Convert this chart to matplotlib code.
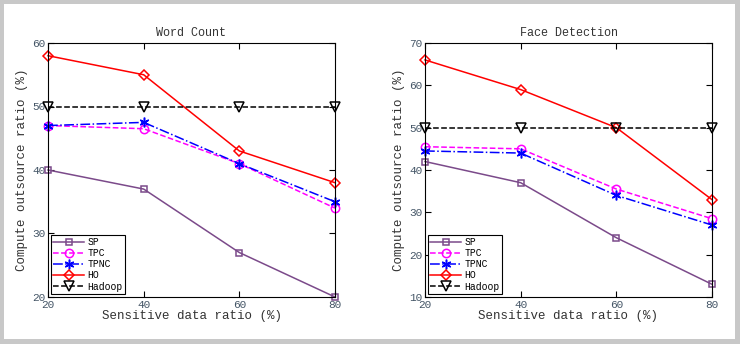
import matplotlib
matplotlib.use('Agg')
import matplotlib.pyplot as plt
from matplotlib.patches import Rectangle

plt.rcParams['font.family'] = ['Liberation Mono', 'DejaVu Sans Mono']

x = [20, 40, 60, 80]
names = ['SP', 'TPC', 'TPNC', 'HO', 'Hadoop']

wc_sp = [40, 37, 27, 20]
wc_tpc = [47, 46.5, 41, 34]
wc_tpnc = [47, 47.5, 41, 35]
wc_ho = [58, 55, 43, 38]
wc_hadoop = [50, 50, 50, 50]

fd_sp = [42, 37, 24, 13]
fd_tpc = [45.5, 45, 35.5, 28.5]
fd_tpnc = [44.5, 44, 34, 27]
fd_ho = [66, 59, 50, 33]
fd_hadoop = [50, 50, 50, 50]

styles = [
    dict(color='#7b4a8a', ls='-', marker='s', ms=5),
    dict(color='#ff00ff', ls='--', marker='o', ms=6),
    dict(color='#0000ff', ls='-.', marker=(6, 2, 0), ms=7),
    dict(color='#ff0000', ls='-', marker='D', ms=5.5),
    dict(color='black', ls='--', marker='v', ms=7),
]

fig = plt.figure(figsize=(7.4, 3.44), dpi=100)
fig.patch.set_facecolor('#c8c8c8')
fig.patches.append(Rectangle((4/740, 5/344), 731/740, 335/344, transform=fig.transFigure,
                             facecolor='white', edgecolor='none', zorder=-10))

panels = [
    ('Word Count', [wc_sp, wc_tpc, wc_tpnc, wc_ho, wc_hadoop], (20, 60), [20, 30, 40, 50, 60], 48),
    ('Face Detection', [fd_sp, fd_tpc, fd_tpnc, fd_ho, fd_hadoop], (10, 70), [10, 20, 30, 40, 50, 60, 70], 425),
]

for title, series, ylim, yt, left in panels:
    ax = fig.add_axes([left/740, 47/344, 287/740, 254/344])
    ax.set_zorder(1)
    for name, y, st in zip(names, series, styles):
        ax.plot(x, y, color=st['color'], linestyle=st['ls'], marker=st['marker'],
                markersize=st['ms'], markerfacecolor='none', markeredgecolor=st['color'],
                markeredgewidth=1.1, linewidth=1.1, label=name, clip_on=False)
    ax.set_xlim(20, 80)
    ax.set_ylim(*ylim)
    ax.set_xticks(x)
    ax.set_yticks(yt)
    ax.tick_params(direction='in', top=True, right=True, labelsize=8, length=4,
                   labelcolor='#445566', pad=2)
    ax.set_title(title, fontsize=8.5, color='#333333', pad=5)
    ax.set_xlabel('Sensitive data ratio (%)', fontsize=9, color='#333333', labelpad=0)
    ax.set_ylabel('Compute outsource ratio (%)', fontsize=9, color='#333333', labelpad=3)
    leg = ax.legend(loc='lower left', fontsize=7, handlelength=3.2, borderpad=0.2,
                    labelspacing=0.12, handletextpad=0.3, fancybox=False,
                    borderaxespad=0.35, framealpha=1)
    leg.get_frame().set_edgecolor('black')
    leg.get_frame().set_linewidth(0.8)

plt.savefig('out.png', dpi=100, facecolor=fig.get_facecolor())
